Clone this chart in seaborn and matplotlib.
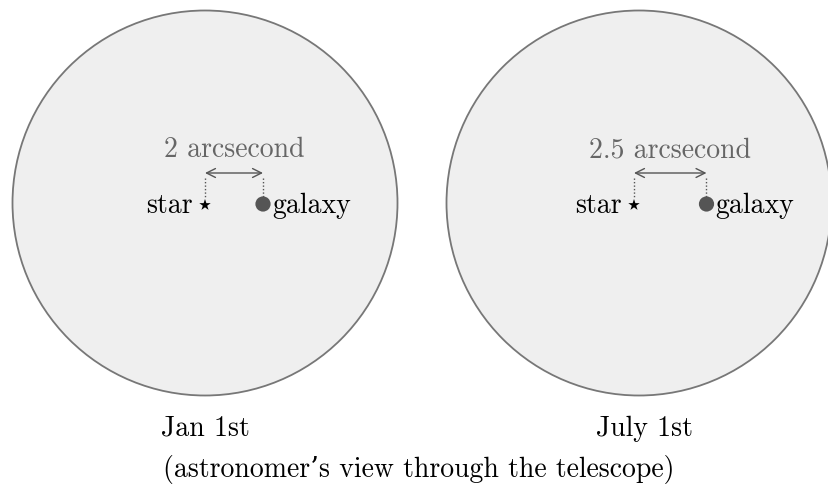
import matplotlib
matplotlib.use("Agg")
import matplotlib.pyplot as plt
from matplotlib.patches import Circle
import seaborn as sns
import pandas as pd

sns.set_theme(style="white")
plt.rcParams["font.family"] = ["cmr10", "DejaVu Serif"]
plt.rcParams["axes.formatter.use_mathtext"] = True

# data
panels = ["Jan 1st", "July 1st"]
separations = [2, 2.5]          # arcsecond between star and galaxy
sep_labels = ["2 arcsecond", "2.5 arcsecond"]
caption = "(astronomer\u2019s view through the telescope)"

# layout (pixels)
W, H = 829, 493
star_x = [205, 634]
circle_cx = [205, 639]
panel_cy = 203
radius = 192.5
px_per_arcsec = 29.0
label_x = [205, 644]

fig = plt.figure(figsize=(W / 100, H / 100), dpi=100)
ax = fig.add_axes([0, 0, 1, 1])
ax.set_xlim(0, W)
ax.set_ylim(H, 0)
ax.set_axis_off()

rows = []
for p, cx, sep in zip(panels, star_x, separations):
    rows.append({"panel": p, "obj": "star", "x": cx, "y": panel_cy + 2})
    rows.append({"panel": p, "obj": "galaxy", "x": cx + sep * px_per_arcsec, "y": panel_cy + 1})
df = pd.DataFrame(rows)

for cx in circle_cx:
    ax.add_patch(Circle((cx, panel_cy), radius, facecolor="#efefef",
                        edgecolor="#777777", linewidth=1.3, zorder=0))

sns.scatterplot(data=df[df.obj == "star"], x="x", y="y", marker="*", s=75,
                color="black", edgecolor="none", ax=ax, zorder=3, legend=False)
sns.scatterplot(data=df[df.obj == "galaxy"], x="x", y="y", marker="o", s=120,
                color="#555555", edgecolor="none", ax=ax, zorder=3, legend=False)

fs = 20
for i, (p, cx, sep, lab) in enumerate(zip(panels, star_x, separations, sep_labels)):
    gx = cx + sep * px_per_arcsec
    # dotted guides
    ax.plot([cx, cx], [178, 198], ls=(0, (1, 1.5)), color="#555555", lw=1.0, zorder=2)
    ax.plot([gx, gx], [178, 198], ls=(0, (1, 1.5)), color="#555555", lw=1.0, zorder=2)
    ax.annotate("", xy=(gx, 173), xytext=(cx, 173),
                arrowprops=dict(arrowstyle="<->", color="#555555", lw=1.0,
                                shrinkA=0, shrinkB=0, mutation_scale=16))
    ax.text((cx + gx) / 2, 157, lab, ha="center", va="baseline", fontsize=fs, color="#666666")
    ax.text(cx - 12, 213, "star", ha="right", va="baseline", fontsize=fs, color="black")
    ax.text(gx + 9, 213, "galaxy", ha="left", va="baseline", fontsize=fs, color="black")
    ax.text(label_x[i], 436, p, ha="center", va="baseline", fontsize=fs, color="black")

ax.text(419, 477, caption, ha="center", va="baseline", fontsize=fs, color="black")

fig.savefig("out.png", dpi=100, facecolor="white")
